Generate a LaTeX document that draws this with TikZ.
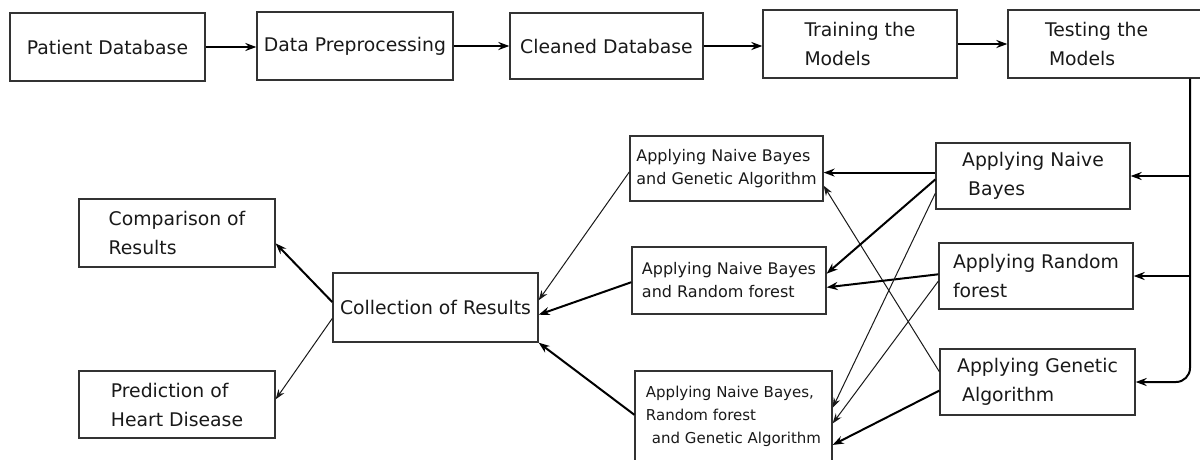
\documentclass[tikz,border=0pt]{standalone}
\usepackage{fontspec}
\setmainfont{DejaVu Sans}
\usetikzlibrary{arrows.meta}

\begin{document}
\begin{tikzpicture}
  [x=1pt, y=-1pt,
   box/.style={draw=black!80, line width=1.3pt, align=left, inner sep=0pt,
     text=black!90, font=\fontsize{18.8}{29}\selectfont},
   smallbox/.style={box, font=\fontsize{16}{23}\selectfont},
   arr/.style={-{Stealth[length=11pt, width=8pt]}, line width=2pt},
   thinarr/.style={-{Stealth[length=10pt, width=7pt]}, line width=1pt, draw=black!90}]
  \useasboundingbox (0,0) rectangle (1200,459);

  % pipeline along the top
  \node[box, minimum width=195pt, minimum height=68pt] (pat) at (107.5,47) {Patient Database};
  \node[box, minimum width=196pt, minimum height=68pt] (prep) at (355,46) {Data Preprocessing};
  \node[box, minimum width=193pt, minimum height=66pt] (clean) at (606.5,46) {Cleaned Database};
  \node[box, minimum width=194pt, minimum height=68pt] (train) at (860,44) {Training the\\Models};
  \node[box, minimum width=198pt, minimum height=68pt, text width=124pt] (test) at (1107,44) {Testing the\\\hspace*{4pt}Models};

  % single models
  \node[box, minimum width=194pt, minimum height=66pt] (nb) at (1033,176) {Applying Naive\\\hspace*{6pt}Bayes};
  \node[box, minimum width=194pt, minimum height=66pt] (rf) at (1036,276) {Applying Random\\forest};
  \node[box, minimum width=195pt, minimum height=66pt] (ga) at (1037.5,382) {Applying Genetic\\\hspace*{5pt}Algorithm};

  % combined models
  \node[smallbox, minimum width=193pt, minimum height=65pt] (nbga) at (726.5,168.5) {Applying Naive Bayes\\and Genetic Algorithm};
  \node[smallbox, minimum width=194pt, minimum height=67pt] (nbrf) at (729,280.5) {Applying Naive Bayes\\and Random forest};
  \node[smallbox, font=\fontsize{15}{23}\selectfont, minimum width=197pt, minimum height=91pt] (nbrfga) at (733.5,416.5) {Applying Naive Bayes,\\Random forest\\\hspace*{6pt}and Genetic Algorithm};

  % results
  \node[box, minimum width=205pt, minimum height=69pt] (coll) at (435.5,307.5) {Collection of Results};
  \node[box, minimum width=196pt, minimum height=68pt] (comp) at (177,233) {Comparison of\\Results};
  \node[box, minimum width=196pt, minimum height=67pt] (pred) at (177,404.5) {Prediction of\\Heart Disease};

  \draw[arr] (pat.east) -- (pat.east -| prep.west);
  \draw[arr] (prep.east) -- (clean.west);
  \draw[arr] (clean.east) -- (clean.east -| train.west);
  \draw[arr] (train.east) -- (train.east -| test.west);

  % bus down the right side
  \coordinate (bus) at (1190,0);
  \draw[arr, rounded corners=14pt] (test.south -| bus) |- (ga.east);
  \draw[arr] (nb.east -| bus) -- (nb.east);
  \draw[arr] (rf.east -| bus) -- (rf.east);

  \draw[arr] (nb.178) -- (nb.178 -| nbga.east);
  \draw[thinarr] (ga.174) -- (nbga.350);
  \draw[arr] (nb.182) -- (nbrf.4);
  \draw[arr] (rf.179) -- (nbrf.356);
  \draw[thinarr] (nb.190) -- (nbrfga.5);
  \draw[thinarr] (rf.183) -- (nbrfga.-4);
  \draw[arr] (ga.185) -- (nbrfga.-16);

  \draw[thinarr] (nbga.182) -- (coll.4);
  \draw[arr] (nbrf.181) -- (coll.-4);
  \draw[arr] (nbrfga.179) -- (coll.south east);

  \draw[arr] (coll.177) -- (comp.354);
  \draw[thinarr] (coll.186) -- (pred.3);
\end{tikzpicture}
\end{document}
